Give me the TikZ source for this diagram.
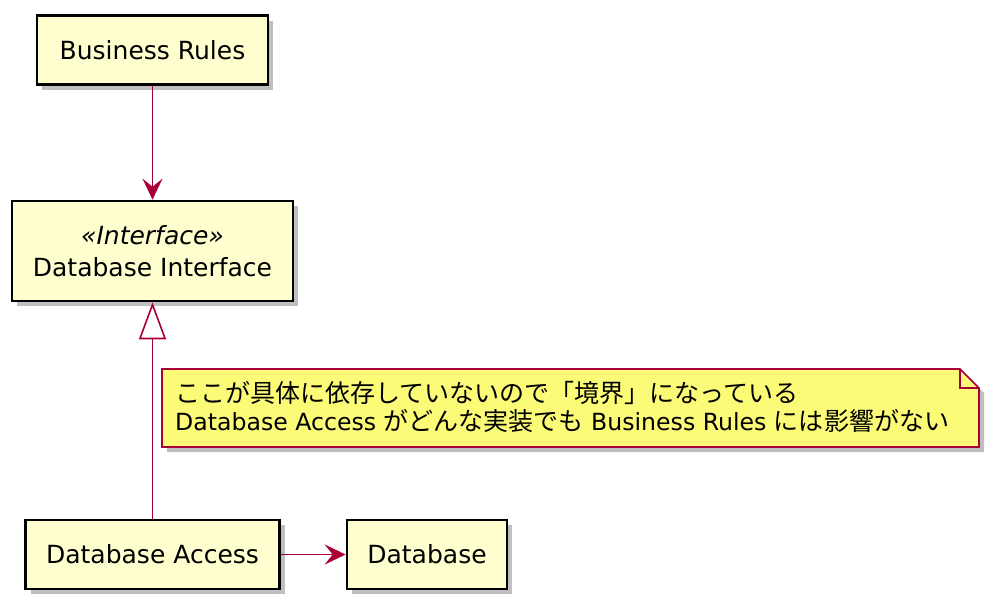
\documentclass[tikz,border=0pt]{standalone}
\usepackage{fontspec}
\setmainfont{DejaVu Sans}
\newfontfamily\cjk[Scale=1.06]{Noto Sans CJK JP}
\usepackage{tikz}
\usetikzlibrary{arrows.meta}
\usetikzlibrary{shadows}
\definecolor{boxfill}{HTML}{FEFECE}
\definecolor{linkred}{HTML}{A80036}
\definecolor{notefill}{HTML}{FBFB77}

\tikzset{
  classbox/.style={draw=black, line width=2.6pt, fill=boxfill, inner sep=0pt,
    align=center, font=\fontsize{25}{32}\selectfont,
    drop shadow={shadow xshift=5pt, shadow yshift=-5pt, fill=black!50, opacity=0.5}},
  link/.style={draw=linkred, line width=1.6pt},
  headarrow/.style={-{Stealth[length=21pt, width=20pt, inset=8pt]}},
  implarrow/.style={-{Triangle[length=37pt, width=27pt, fill=white]}},
  notetext/.style={inner sep=0pt, align=left, font=\fontsize{23.6}{28}\selectfont}
}

\begin{document}
\begin{tikzpicture}[x=1pt, y=-1pt]
      \useasboundingbox (0,0) rectangle (1000,608);

      % class boxes
      \node[classbox, minimum width=231pt, minimum height=69pt] (rules) at (152.5,50) {Business Rules};
      \node[classbox, minimum width=281pt, minimum height=100pt] (iface) at (152.5,251)
        {{\itshape «Interface»}\\Database Interface};
      \node[classbox, minimum width=254pt, minimum height=69pt] (access) at (152.5,554.5) {Database Access};
      \node[classbox, minimum width=160pt, minimum height=69pt] (db) at (427,554.5) {Database};

      % note with folded corner
      \fill[black!50, opacity=0.5] (167,374) -- (965,374) -- (984,393) -- (984,452) -- (167,452) -- cycle;
      \filldraw[fill=notefill, draw=linkred, line width=1.6pt]
        (162,369) -- (960,369) -- (979,388) -- (979,447) -- (162,447) -- cycle;
      \draw[linkred, line width=1.6pt] (960,369) -- (960,388) -- (979,388);
      \node[notetext, anchor=west] (note) at (175,407)
        {{\cjk ここが具体に依存していないので「境界」になっている}\\
         Database Access {\cjk がどんな実装でも} Business Rules {\cjk には影響がない}};

      % connections between boxes
      \draw[link, headarrow] (rules) -- (iface);
      \draw[link, implarrow] (access) -- (iface);
      \draw[link, headarrow] (access) -- (db);
\end{tikzpicture}
\end{document}
